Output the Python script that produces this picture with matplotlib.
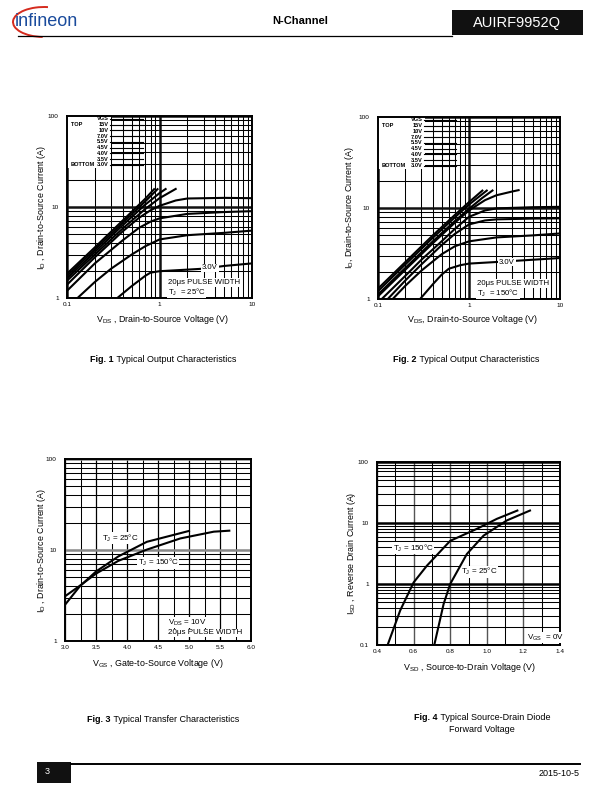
import matplotlib
matplotlib.use('Agg')
import matplotlib.pyplot as plt
from matplotlib.patches import Rectangle, Arc

plt.rcParams['font.family'] = ['Liberation Sans', 'DejaVu Sans']
plt.rcParams['mathtext.fontset'] = 'custom'
plt.rcParams['mathtext.rm'] = 'Liberation Sans'
plt.rcParams['mathtext.it'] = 'Liberation Sans:italic'
plt.rcParams['mathtext.bf'] = 'Liberation Sans:bold'

# ---- data ----
vgs_labels = ['15V', '10V', '7.0V', '5.5V', '4.5V', '4.0V', '3.5V', '3.0V']

# Fig 1, TJ = 25C
f1_15v_x = [0.1, 0.2, 0.4, 0.7, 0.89]
f1_15v_y = [1.85, 3.6, 7.1, 12.3, 16]
f1_10v_x = [0.1, 0.2, 0.4, 0.7, 0.97]
f1_10v_y = [1.75, 3.4, 6.7, 11.5, 16]
f1_7v_x = [0.1, 0.2, 0.4, 0.7, 1.0, 1.19]
f1_7v_y = [1.65, 3.2, 6.3, 10.6, 14.2, 16]
f1_55v_x = [0.1, 0.2, 0.4, 0.7, 1.0, 1.53]
f1_55v_y = [1.55, 3.0, 5.8, 9.5, 12.5, 16]
f1_45v_x = [0.1, 0.2, 0.4, 0.6, 0.8, 1.0, 1.5, 2, 5, 10]
f1_45v_y = [1.4, 2.8, 5.4, 7.6, 9.2, 10.3, 11.8, 12.4, 12.6, 12.5]
f1_4v_x = [0.1, 0.2, 0.4, 0.6, 0.8, 1, 2, 5, 10]
f1_4v_y = [1.2, 2.4, 4.3, 5.9, 6.9, 7.5, 8.4, 8.8, 9.0]
f1_35v_x = [0.13, 0.2, 0.3, 0.5, 0.7, 1, 2, 5, 10]
f1_35v_y = [1.0, 1.5, 2.1, 3.0, 3.7, 4.4, 4.9, 5.2, 5.5]
f1_3v_x = [0.35, 0.5, 0.7, 0.8, 1, 2, 3, 5, 10]
f1_3v_y = [1.0, 1.35, 1.75, 1.9, 1.97, 2.05, 2.1, 2.25, 2.4]

# Fig 2, TJ = 150C
f2_15v_x = [0.1, 0.2, 0.4, 0.7, 1.0, 1.43]
f2_15v_y = [1.3, 2.55, 5.0, 8.4, 11.6, 15.8]
f2_10v_x = [0.1, 0.2, 0.4, 0.7, 1.0, 1.6]
f2_10v_y = [1.22, 2.4, 4.7, 7.9, 10.9, 15.8]
f2_7v_x = [0.1, 0.2, 0.4, 0.7, 1.0, 1.4, 1.85]
f2_7v_y = [1.12, 2.2, 4.3, 7.2, 9.8, 12.9, 15.8]
f2_55v_x = [0.1, 0.2, 0.4, 0.7, 1.0, 1.5, 2.0, 3.0, 3.6]
f2_55v_y = [1.07, 2.1, 4.1, 6.9, 9.4, 12.2, 13.8, 15.2, 15.8]
f2_45v_x = [0.11, 0.2, 0.3, 0.5, 0.7, 1, 1.5, 2, 5, 10]
f2_45v_y = [1.0, 1.8, 2.7, 4.3, 5.9, 8.0, 9.4, 9.9, 10.2, 10.3]
f2_4v_x = [0.128, 0.2, 0.3, 0.5, 0.7, 1, 1.5, 2, 5, 10]
f2_4v_y = [1.0, 1.6, 2.4, 3.9, 5.2, 6.6, 7.3, 7.5, 7.65, 7.7]
f2_35v_x = [0.145, 0.2, 0.3, 0.5, 0.7, 1, 2, 5, 10]
f2_35v_y = [1.0, 1.4, 2.05, 3.1, 3.8, 4.3, 4.75, 5.0, 5.25]
f2_3v_x = [0.29, 0.4, 0.5, 0.6, 0.8, 1, 2, 5, 10]
f2_3v_y = [1.0, 1.45, 1.85, 2.15, 2.35, 2.45, 2.55, 2.7, 2.82]

# Fig 3, transfer characteristics
f3_25c_vgs = [3.0, 3.24, 3.5, 3.86, 4.32, 5.0]
f3_25c_id = [2.5, 4.0, 5.8, 8.5, 12.3, 16.2]
f3_150c_vgs = [3.0, 3.24, 3.5, 3.86, 4.32, 4.86, 5.4, 5.65]
f3_150c_id = [3.1, 4.05, 5.5, 7.6, 10.1, 13.4, 15.9, 16.3]

# Fig 4, source-drain diode
f4_150c_vsd = [0.458, 0.527, 0.6, 0.673, 0.8, 0.945, 1.055, 1.167]
f4_150c_isd = [0.1, 0.37, 1.06, 2.0, 5.1, 8.0, 11.7, 16]
f4_25c_vsd = [0.713, 0.764, 0.8, 0.891, 0.982, 1.109, 1.236]
f4_25c_isd = [0.1, 0.47, 1.0, 3.1, 6.2, 11, 16]

fig1_curves = [(f1_15v_x, f1_15v_y), (f1_10v_x, f1_10v_y), (f1_7v_x, f1_7v_y),
               (f1_55v_x, f1_55v_y), (f1_45v_x, f1_45v_y), (f1_4v_x, f1_4v_y),
               (f1_35v_x, f1_35v_y), (f1_3v_x, f1_3v_y)]
fig2_curves = [(f2_15v_x, f2_15v_y), (f2_10v_x, f2_10v_y), (f2_7v_x, f2_7v_y),
               (f2_55v_x, f2_55v_y), (f2_45v_x, f2_45v_y), (f2_4v_x, f2_4v_y),
               (f2_35v_x, f2_35v_y), (f2_3v_x, f2_3v_y)]

W, H = 612, 792
fig = plt.figure(figsize=(6.12, 7.92), dpi=100)

# page overlay in pixel coordinates
page = fig.add_axes([0, 0, 1, 1])
page.set_xlim(0, W)
page.set_ylim(H, 0)
page.axis('off')


def px_axes(x0, y0, x1, y1):
    return fig.add_axes([x0 / W, 1 - y1 / H, (x1 - x0) / W, (y1 - y0) / H])


LW = 1.5
TICK_FS = 4.6
LBL_FS = 6.4
LEG_FS = 4.1


def log_minors(lo, hi):
    out = []
    d = lo
    while d < hi:
        out += [d * k for k in range(2, 10)]
        d *= 10
    return out


def style(ax):
    for s in ax.spines.values():
        s.set_linewidth(1.4)
    ax.tick_params(which='both', length=0, labelsize=TICK_FS, pad=3)
    ax.tick_params(axis='y', pad=6)


def vgs_box(ax, box_w, line_end):
    ax.add_patch(Rectangle((0, 0.715), box_w, 0.285, transform=ax.transAxes,
                           facecolor='white', edgecolor='none', zorder=2))
    ys = [0.984 - 0.0316 * i for i in range(9)]
    ax.text(box_w - 0.015, ys[0], 'VGS', transform=ax.transAxes, ha='right', va='center',
            fontsize=LEG_FS, fontweight='bold', zorder=3)
    for lab, yy in zip(vgs_labels, ys[1:]):
        ax.text(box_w - 0.015, yy, lab, transform=ax.transAxes, ha='right', va='center',
                fontsize=LEG_FS, fontweight='bold', zorder=3)
    for yy in ys:
        ax.plot([box_w - 0.005, line_end], [yy, yy], transform=ax.transAxes,
                color='k', lw=0.8, zorder=3)
    ax.text(0.02, ys[1], 'TOP', transform=ax.transAxes, ha='left', va='center',
            fontsize=LEG_FS, fontweight='bold', zorder=3)
    ax.text(0.02, ys[8], 'BOTTOM', transform=ax.transAxes, ha='left', va='center',
            fontsize=LEG_FS, fontweight='bold', zorder=3)


def output_plot(ax, curves, tj, lab30_xy, box_w):
    ax.set_xscale('log')
    ax.set_yscale('log')
    ax.set_xlim(0.1, 10)
    ax.set_ylim(1, 100)
    ax.set_xticks([0.1, 1, 10])
    ax.set_xticklabels(['0.1', '1', '10'])
    ax.set_yticks([1, 10, 100])
    ax.set_yticklabels(['1', '10', '100'])
    ax.set_xticks(log_minors(0.1, 10), minor=True)
    ax.set_yticks(log_minors(1, 100), minor=True)
    ax.xaxis.set_minor_formatter(plt.NullFormatter())
    ax.yaxis.set_minor_formatter(plt.NullFormatter())
    ax.grid(which='minor', color='k', lw=0.75)
    ax.grid(which='major', color='#111111', lw=1.8)
    style(ax)
    for x, y in curves:
        ax.plot(x, y, color='k', lw=LW, zorder=4, solid_capstyle='butt')
    vgs_box(ax, box_w, box_w + 0.17)
    bb = dict(facecolor='white', edgecolor='none', pad=0.6)
    ax.text(lab30_xy[0], lab30_xy[1], '3.0V', transform=ax.transAxes, ha='center',
            va='center', fontsize=5.6, bbox=bb, zorder=5)
    ax.text(0.545, 0.085, '20μs PULSE WIDTH', transform=ax.transAxes, ha='left',
            va='center', fontsize=5.6, bbox=bb, zorder=5)
    ax.text(0.545, 0.033, 'T$_\\mathregular{J}$  = ' + tj, transform=ax.transAxes,
            ha='left', va='center', fontsize=5.6, bbox=bb, zorder=5)


def caption(cx, y, bold, rest, fs=6.5):
    # bold figure number followed by plain text, centred as one line
    r = fig.canvas.get_renderer()
    tb = page.text(0, y, bold, ha='left', va='center', fontsize=fs, fontweight='bold')
    tr = page.text(0, y, ' ' + rest, ha='left', va='center', fontsize=fs)
    wb = tb.get_window_extent(r).width
    wr = tr.get_window_extent(r).width
    x0 = cx - (wb + wr) / 2
    tb.set_x(x0)
    tr.set_x(x0 + wb)


# ---- Fig 1 ----
ax1 = px_axes(67, 116, 252, 298)
output_plot(ax1, fig1_curves, '25°C', (0.773, 0.165), 0.24)
page.text(42, 207, 'I$_\\mathregular{D}$ , Drain-to-Source Current (A)', rotation=90,
          ha='center', va='center', fontsize=LBL_FS)
page.text(163, 320, 'V$_\\mathregular{DS}$ , Drain-to-Source Voltage (V)',
          ha='center', va='center', fontsize=LBL_FS)
caption(163, 360, 'Fig. 1', 'Typical Output Characteristics')

# ---- Fig 2 ----
ax2 = px_axes(378, 117, 560, 299)
output_plot(ax2, fig2_curves, '150°C', (0.709, 0.203), 0.26)
page.text(350, 208, 'I$_\\mathregular{D}$, Drain-to-Source Current (A)', rotation=90,
          ha='center', va='center', fontsize=LBL_FS)
page.text(472, 320, 'V$_\\mathregular{DS}$, Drain-to-Source Voltage (V)',
          ha='center', va='center', fontsize=LBL_FS)
caption(466, 359, 'Fig. 2', 'Typical Output Characteristics')

# ---- Fig 3 ----
ax3 = px_axes(65, 459, 251, 641)
ax3.set_yscale('log')
ax3.set_xlim(3.0, 6.0)
ax3.set_ylim(1, 100)
ax3.set_xticks([3.0, 3.5, 4.0, 4.5, 5.0, 5.5, 6.0])
ax3.set_xticklabels(['3.0', '3.5', '4.0', '4.5', '5.0', '5.5', '6.0'])
ax3.set_xticks([3.25, 3.75, 4.25, 4.75, 5.25, 5.75], minor=True)
ax3.set_yticks([1, 10, 100])
ax3.set_yticklabels(['1', '10', '100'])
ax3.set_yticks(log_minors(1, 100), minor=True)
ax3.yaxis.set_minor_formatter(plt.NullFormatter())
ax3.grid(which='minor', color='k', lw=0.75)
ax3.grid(which='major', axis='x', color='k', lw=0.9)
ax3.grid(which='major', axis='y', color='#888888', lw=1.8)
style(ax3)
ax3.plot(f3_25c_vgs, f3_25c_id, color='k', lw=LW, zorder=4)
ax3.plot(f3_150c_vgs, f3_150c_id, color='k', lw=LW, zorder=4)
bb = dict(facecolor='white', edgecolor='none', pad=0.3)
ax3.text(0.2, 0.565, 'T$_\\mathregular{J}$ = 25°C', transform=ax3.transAxes, ha='left',
         va='center', fontsize=5.8, bbox=bb, zorder=3)
ax3.text(0.39, 0.43, 'T$_\\mathregular{J}$ = 150°C', transform=ax3.transAxes, ha='left',
         va='center', fontsize=5.8, bbox=bb, zorder=3)
ax3.text(0.553, 0.1, 'V$_\\mathregular{DS}$ = 10V', transform=ax3.transAxes, ha='left',
         va='center', fontsize=5.8, bbox=bb, zorder=5)
ax3.text(0.553, 0.045, '20μs PULSE WIDTH', transform=ax3.transAxes, ha='left',
         va='center', fontsize=5.8, bbox=bb, zorder=5)
page.text(42, 550, 'I$_\\mathregular{D}$ , Drain-to-Source Current (A)', rotation=90,
          ha='center', va='center', fontsize=LBL_FS)
page.text(158, 663, 'V$_\\mathregular{GS}$ , Gate-to-Source Voltage (V)',
          ha='center', va='center', fontsize=LBL_FS)
caption(163, 720, 'Fig. 3', 'Typical Transfer Characteristics')

# ---- Fig 4 ----
ax4 = px_axes(377, 462, 560, 645)
ax4.set_yscale('log')
ax4.set_xlim(0.4, 1.4)
ax4.set_ylim(0.1, 100)
ax4.set_xticks([0.4, 0.6, 0.8, 1.0, 1.2, 1.4])
ax4.set_xticklabels(['0.4', '0.6', '0.8', '1.0', '1.2', '1.4'])
ax4.set_xticks([0.5, 0.7, 0.9, 1.1, 1.3], minor=True)
ax4.set_yticks([0.1, 1, 10, 100])
ax4.set_yticklabels(['0.1', '1', '10', '100'])
ax4.set_yticks(log_minors(0.1, 100), minor=True)
ax4.yaxis.set_minor_formatter(plt.NullFormatter())
ax4.grid(which='minor', color='k', lw=0.75)
ax4.grid(which='major', axis='x', color='#555555', lw=1.0)
ax4.grid(which='major', axis='y', color='k', lw=1.8)
style(ax4)
ax4.plot(f4_150c_vsd, f4_150c_isd, color='k', lw=LW, zorder=4)
ax4.plot(f4_25c_vsd, f4_25c_isd, color='k', lw=LW, zorder=4)
ax4.text(0.085, 0.53, 'T$_\\mathregular{J}$ = 150°C', transform=ax4.transAxes, ha='left',
         va='center', fontsize=5.8, bbox=bb, zorder=3)
ax4.text(0.46, 0.40, 'T$_\\mathregular{J}$ = 25°C', transform=ax4.transAxes, ha='left',
         va='center', fontsize=5.8, bbox=bb, zorder=3)
ax4.text(0.82, 0.04, 'V$_\\mathregular{GS}$  = 0V', transform=ax4.transAxes, ha='left',
         va='center', fontsize=5.8, bbox=bb, zorder=5)
page.text(352, 553, 'I$_\\mathregular{SD}$ , Reverse Drain Current (A)', rotation=90,
          ha='center', va='center', fontsize=LBL_FS)
page.text(470, 667, 'V$_\\mathregular{SD}$ , Source-to-Drain Voltage (V)',
          ha='center', va='center', fontsize=LBL_FS)
caption(482, 718, 'Fig. 4', 'Typical Source-Drain Diode')
page.text(482, 730, 'Forward Voltage', ha='center', va='center', fontsize=6.5)

# ---- header ----
page.text(46, 21, 'infineon', ha='center', va='center', fontsize=13,
          color='#1a4b9c', fontstretch='condensed')
page.add_patch(Arc((44, 22), 62, 30, theta1=95, theta2=285, color='#d52b1e', lw=1.4))
page.text(300, 21, 'N-Channel', ha='center', va='center', fontsize=8, fontweight='bold')
page.add_patch(Rectangle((452, 10), 131, 25, facecolor='#111111', edgecolor='none'))
page.text(517, 22.5, 'AUIRF9952Q', ha='center', va='center', fontsize=10.5, color='white')
page.plot([18, 452], [36, 36], color='k', lw=0.9)

# ---- footer ----
page.add_patch(Rectangle((37, 762), 34, 21, facecolor='#111111', edgecolor='none'))
page.text(47, 772, '3', ha='center', va='center', fontsize=6.5, color='white')
page.plot([71, 580], [764, 764], color='k', lw=1.4)
page.text(580, 773, '2015-10-5', ha='right', va='center', fontsize=6.5)

fig.savefig('out.png', dpi=100)
